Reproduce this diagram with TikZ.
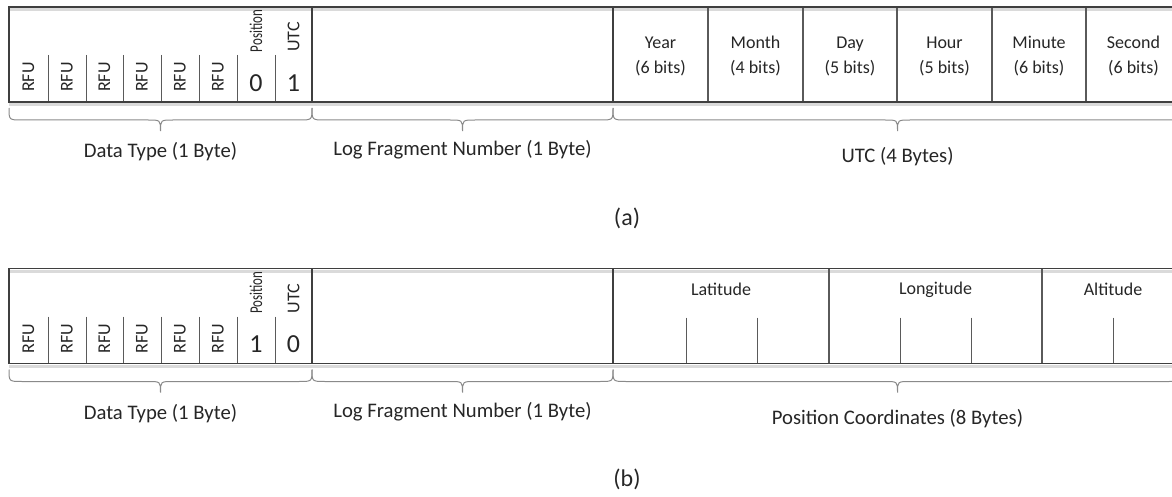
\documentclass[tikz,border=0pt]{standalone}
\usepackage{fontspec}
\setmainfont{Carlito}
\definecolor{ln}{HTML}{3F3F3F}
\definecolor{dv}{HTML}{5A5A5A}
\definecolor{brc}{HTML}{8A8A8A}
\definecolor{txt}{HTML}{262626}
\definecolor{shd}{HTML}{DADADA}
\begin{document}
\begin{tikzpicture}[x=1pt,y=-1pt,
  frame/.style={draw=ln,line width=1.6pt},
  div/.style={draw=dv,line width=1.1pt},
  tick/.style={draw=dv,line width=1pt},
  shadow/.style={draw=shd,line width=3pt},
  brc/.style={draw=brc,line width=1pt},
  small/.style={font=\fontsize{18}{25}\selectfont,text=txt,inner sep=0pt,align=center},
  digit/.style={font=\fontsize{26}{30}\selectfont,text=txt,inner sep=0pt},
  big/.style={font=\fontsize{20.7}{25}\selectfont,text=txt,inner sep=0pt},
  captext/.style={font=\fontsize{24}{28}\selectfont,text=txt,inner sep=0pt}]
\useasboundingbox (0,0) rectangle (1172,497);
\clip (0,0) rectangle (1172,497);

% ---------------- panel (a) ----------------
\begin{scope}
  \draw[shadow] (9,9.5) -- (1190,9.5);
  \draw[shadow] (9,104.5) -- (1190,104.5);
  \foreach \x in {48,86,123,161,199,237,275} \draw[tick] (\x,55) -- (\x,102);
  \foreach \x in {708,803,897,992,1086} \draw[div] (\x,7) -- (\x,102);
  \draw[frame] (1190,7) -- (9,7) -- (9,102) -- (1190,102);
  \draw[frame] (312,7) -- (312,102);
  \draw[frame] (613,7) -- (613,102);
  \foreach \x/\n in {28.5/1,67/2,104.5/3,142/4,180/5,218/6}
    \node[small,rotate=90] (arfu\n) at (\x,77) {RFU};
  \node[small,rotate=90] (apos) at (256,31) {\scalebox{0.72}[1]{Position}};
  \node[small,rotate=90] (autc) at (293.5,37) {UTC};
  \node[digit] (apd) at (256,83) {0};
  \node[digit] (aud) at (293.5,83) {1};
  \node[small] (ayear) at (660.5,56) {Year\\(6 bits)};
  \node[small] (amonth) at (755.5,56) {Month\\(4 bits)};
  \node[small] (aday) at (850,56) {Day\\(5 bits)};
  \node[small] (ahour) at (944.5,56) {Hour\\(5 bits)};
  \node[small] (amin) at (1039,56) {Minute\\(6 bits)};
  \node[small] (asec) at (1133.5,56) {Second\\(6 bits)};
  % braces
  \draw[brc] (9,108) .. controls (9,120) .. (22,120) -- (148,120) .. controls (160.5,120) .. (160.5,131)
     .. controls (160.5,120) .. (173,120) -- (299,120) .. controls (312,120) .. (312,108);
  \draw[brc] (312,108) .. controls (312,120) .. (325,120) -- (450,120) .. controls (462.5,120) .. (462.5,131)
     .. controls (462.5,120) .. (475,120) -- (600,120) .. controls (613,120) .. (613,108);
  \draw[brc] (613,108) .. controls (613,120) .. (626,120) -- (885,120) .. controls (897.5,120) .. (897.5,131)
     .. controls (897.5,120) .. (910,120) -- (1169,120) .. controls (1182,120) .. (1182,108);
  \node[big] (adt) at (160.5,152) {Data Type (1 Byte)};
  \node[big] (alf) at (462.5,150) {Log Fragment Number (1 Byte)};
  \node[big] (autcl) at (897.5,157) {UTC (4 Bytes)};
  \node[captext] (acap) at (627,218) {(a)};
\end{scope}

% ---------------- panel (b) ----------------
\begin{scope}[yshift=-261.5pt]
  \draw[shadow] (9,9.5) -- (1190,9.5);
  \draw[shadow] (9,104.5) -- (1190,104.5);
  \foreach \x in {48,86,123,161,199,237,275} \draw[tick] (\x,55) -- (\x,102);
  \foreach \x in {686,757,900,971,1113} \draw[tick] (\x,56) -- (\x,102);
  \draw[div] (829,7) -- (829,102);
  \draw[div] (1042,7) -- (1042,102);
  \draw[frame] (1190,7) -- (9,7) -- (9,102) -- (1190,102);
  \draw[frame] (312,7) -- (312,102);
  \draw[frame] (613,7) -- (613,102);
  \foreach \x/\n in {28.5/1,67/2,104.5/3,142/4,180/5,218/6}
    \node[small,rotate=90] (brfu\n) at (\x,77) {RFU};
  \node[small,rotate=90] (bpos) at (256,31) {\scalebox{0.72}[1]{Position}};
  \node[small,rotate=90] (butc) at (293.5,37) {UTC};
  \node[digit] (bpd) at (256,83) {1};
  \node[digit] (bud) at (293.5,83) {0};
  \node[small] (blat) at (721,28) {Latitude};
  \node[small] (blon) at (935.5,28) {Longitude};
  \node[small] (balt) at (1113,28) {Altitude};
  % braces
  \draw[brc] (9,108) .. controls (9,120) .. (22,120) -- (148,120) .. controls (160.5,120) .. (160.5,131)
     .. controls (160.5,120) .. (173,120) -- (299,120) .. controls (312,120) .. (312,108);
  \draw[brc] (312,108) .. controls (312,120) .. (325,120) -- (450,120) .. controls (462.5,120) .. (462.5,131)
     .. controls (462.5,120) .. (475,120) -- (600,120) .. controls (613,120) .. (613,108);
  \draw[brc] (613,108) .. controls (613,120) .. (626,120) -- (885,120) .. controls (897.5,120) .. (897.5,131)
     .. controls (897.5,120) .. (910,120) -- (1169,120) .. controls (1182,120) .. (1182,108);
  \node[big] (bdt) at (160.5,152) {Data Type (1 Byte)};
  \node[big] (blf) at (462.5,150) {Log Fragment Number (1 Byte)};
  \node[big] (bpc) at (897.5,157) {Position Coordinates (8 Bytes)};
  \node[captext] (bcap) at (627,218) {(b)};
\end{scope}
\end{tikzpicture}
\end{document}
